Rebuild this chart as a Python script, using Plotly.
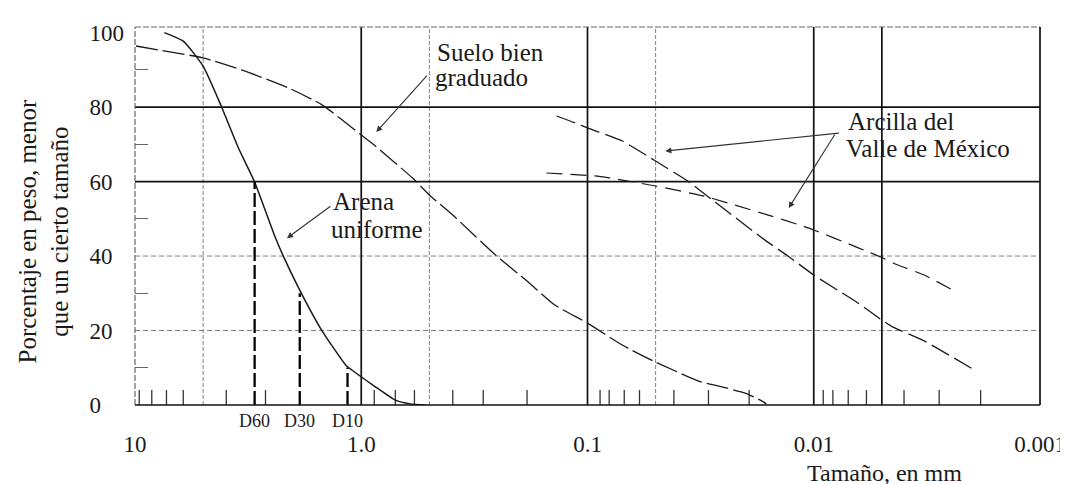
import math
import plotly.graph_objects as go

# ---------------- data ----------------
# Arena uniforme (solid curve)
arena_x = [7.42, 6.12, 5.0, 4.16, 3.49, 2.96, 2.42, 2.20, 1.89, 1.49, 1.17, 1.10, 0.876, 0.707, 0.607, 0.52]
arena_y = [100, 97.7, 91.0, 80.3, 69.0, 59.9, 45.6, 39.7, 31.4, 19.9, 10.7, 9.4, 5.1, 1.3, 0.3, 0]

# Suelo bien graduado (dashed curve)
suelo_x = [9.9, 7.82, 5.0, 3.28, 2.09, 1.49, 1.0, 0.876, 0.595, 0.5, 0.394, 0.252, 0.185, 0.140,
           0.1, 0.0702, 0.05, 0.0315, 0.0277, 0.0201, 0.0170, 0.0162]
suelo_y = [96.4, 95.3, 93.2, 89.7, 85.1, 80.6, 72.5, 69.8, 61.0, 56.4, 51.0, 40.0, 33.3, 26.9,
           22.0, 16.1, 11.5, 6.2, 5.4, 3.2, 1.1, 0.3]

# Arcilla del Valle de México, curve 1 (steeper)
arc1_x = [0.137, 0.114, 0.1, 0.0702, 0.05, 0.0362, 0.0277, 0.0162, 0.0130, 0.01, 0.00638, 0.005, 0.00446, 0.00325, 0.00195]
arc1_y = [77.6, 75.8, 74.4, 70.9, 65.5, 60.2, 54.8, 44.0, 40.0, 34.9, 27.4, 22.8, 20.9, 17.2, 9.4]

# Arcilla del Valle de México, curve 2 (flatter)
arc2_x = [0.152, 0.0926, 0.0702, 0.05, 0.0306, 0.0159, 0.0115, 0.01, 0.00684, 0.00596, 0.005, 0.00433, 0.00325, 0.00244]
arc2_y = [62.3, 61.5, 60.4, 58.8, 56.1, 51.0, 48.3, 47.0, 43.0, 41.5, 39.6, 37.8, 34.9, 30.9]

# characteristic diameters of the uniform sand
d_labels = ["D60", "D30", "D10"]
d_sizes = [2.96, 1.87, 1.15]
d_percent = [60, 30, 10]

# short marks along the size axis
sieve_ticks = [9.58, 8.43, 7.26, 6.12, 3.95, 2.65, 0.876, 0.707, 0.582, 0.394, 0.289, 0.185,
               0.088, 0.0802, 0.0688, 0.0589, 0.0415, 0.0292, 0.0193,
               0.00908, 0.00823, 0.00704, 0.00585, 0.00399, 0.00279, 0.00183]

# grid
x_grid_solid = [1, 0.1, 0.01, 0.005]
x_grid_dashed = [5, 0.5, 0.05]
y_grid_solid = [60, 80]
y_grid_dashed = [20, 40]

x_tickvals = [10, 1, 0.1, 0.01, 0.001]
x_ticktext = ["10", "1.0", "0.1", "0.01", "0.001"]
y_tickvals = [0, 20, 40, 60, 80, 100]
y_ticktext = ["0\u00a0\u00a0\u00a0\u00a0", "20\u00a0\u00a0", "40\u00a0\u00a0", "60\u00a0\u00a0", "80\u00a0\u00a0", "100"]
y_minor = [10, 30, 50, 70, 90]

X_MIN, X_MAX = 10, 0.001
Y_TOP = 101.5

FONT = "Liberation Serif"
INK = "#1a1a1a"

fig = go.Figure()


def segs(values, lo, hi, vertical=True):
    xs, ys = [], []
    for v in values:
        if vertical:
            xs += [v, v, None]
            ys += [lo, hi, None]
        else:
            xs += [lo, hi, None]
            ys += [v, v, None]
    return xs, ys


# grid lines
gx, gy = segs(x_grid_dashed, 0, Y_TOP)
fig.add_trace(go.Scatter(x=gx, y=gy, mode="lines", line=dict(color="#808080", width=1, dash="4px,2px")))
gx, gy = segs(y_grid_dashed, X_MIN, X_MAX, vertical=False)
fig.add_trace(go.Scatter(x=gx, y=gy, mode="lines", line=dict(color="#808080", width=1, dash="5px,3px")))
gx, gy = segs(x_grid_solid, 0, Y_TOP)
fig.add_trace(go.Scatter(x=gx, y=gy, mode="lines", line=dict(color="#111", width=1.7)))
gx, gy = segs(y_grid_solid, X_MIN, X_MAX, vertical=False)
fig.add_trace(go.Scatter(x=gx, y=gy, mode="lines", line=dict(color="#111", width=1.7)))

# short marks at the bottom
tx, ty = segs(sieve_ticks, 0, 4)
fig.add_trace(go.Scatter(x=tx, y=ty, mode="lines", line=dict(color="#333", width=1.3)))

# curves
fig.add_trace(go.Scatter(x=arena_x, y=arena_y, mode="lines",
                         line=dict(color=INK, width=1.5, shape="spline", smoothing=0.5)))
fig.add_trace(go.Scatter(x=suelo_x, y=suelo_y, mode="lines",
                         line=dict(color=INK, width=1.3, dash="22px,5px", shape="spline", smoothing=0.5)))
fig.add_trace(go.Scatter(x=arc1_x, y=arc1_y, mode="lines",
                         line=dict(color=INK, width=1.3, dash="20px,6px", shape="spline", smoothing=0.5)))
fig.add_trace(go.Scatter(x=arc2_x, y=arc2_y, mode="lines",
                         line=dict(color=INK, width=1.2, dash="16px,8px", shape="spline", smoothing=0.5)))

# D lines
for s, p in zip(d_sizes, d_percent):
    fig.add_trace(go.Scatter(x=[s, s], y=[0, p], mode="lines",
                             line=dict(color="#000", width=2.3, dash="14px,4px")))

# frame
shapes = [
    dict(type="line", xref="paper", yref="paper", x0=0, x1=1, y0=1, y1=1, line=dict(color="#666", width=1.2, dash="6px,2px")),
    dict(type="line", xref="paper", yref="paper", x0=0, x1=0, y0=0, y1=1, line=dict(color="#666", width=1.2, dash="6px,2px")),
    dict(type="line", xref="paper", yref="paper", x0=1, x1=1, y0=0, y1=1, line=dict(color="#111", width=1.7)),
    dict(type="line", xref="paper", yref="paper", x0=0, x1=1, y0=0, y1=0, line=dict(color="#111", width=1.7)),
]

annotations = []
# D labels
for lab, s in zip(d_labels, d_sizes):
    annotations.append(dict(x=math.log10(s), y=-0.042, xref="x", yref="paper", text=lab,
                            showarrow=False, xanchor="center", yanchor="middle",
                            font=dict(family=FONT, size=18, color=INK)))


def txt(text, xpx, ypx, size=25):
    annotations.append(dict(x=(xpx - 127) / 905, y=(397 - ypx) / 378, xref="paper", yref="paper",
                            text=text, showarrow=False, xanchor="left", yanchor="middle",
                            font=dict(family=FONT, size=size, color=INK)))


txt("Suelo bien", 427, 44)
txt("graduado", 425, 70)
txt("Arena", 323, 193)
txt("uniforme", 321, 221)
txt("Arcilla del", 838, 113)
txt("Valle de México", 836, 140)


def arrow(x, y, ax, ay):
    annotations.append(dict(x=math.log10(x), y=y, xref="x", yref="y", ax=ax, ay=ay, text="",
                            showarrow=True, arrowhead=2, arrowsize=1.1, arrowwidth=1.1,
                            arrowcolor="#333", standoff=0))


arrow(0.858, 73.3, 52, -58)
arrow(2.13, 44.8, 45, -33)
arrow(0.0453, 68.2, 175, -18)
arrow(0.0129, 52.9, 47, -75)

# axis titles
annotations.append(dict(x=(35.5 - 127) / 905, y=(397 - 224) / 378, xref="paper", yref="paper", textangle=-90,
                        xanchor="center", yanchor="middle",
                        text="Porcentaje en peso, menor<br>que un cierto tamaño", showarrow=False,
                        font=dict(family=FONT, size=25, color=INK)))
annotations.append(dict(x=(876 - 127) / 905, y=(397 - 465) / 378, xref="paper", yref="paper",
                        xanchor="center", yanchor="middle",
                        text="Tamaño, en mm", showarrow=False,
                        font=dict(family=FONT, size=24, color=INK)))

fig.update_layout(
    template="none",
    width=1068, height=484,
    margin=dict(l=127, r=36, t=19, b=87),
    paper_bgcolor="white", plot_bgcolor="white",
    showlegend=False,
    shapes=shapes, annotations=annotations,
    font=dict(family=FONT, color=INK),
    xaxis=dict(type="log", range=[1, -3], tickvals=x_tickvals, ticktext=x_ticktext, automargin=False,
               showgrid=False, zeroline=False, showline=False, ticks="",
               tickfont=dict(family=FONT, size=23, color=INK), ticklabelstandoff=23),
    yaxis=dict(range=[0, Y_TOP], tickvals=y_tickvals, ticktext=y_ticktext, automargin=False,
               showgrid=False, zeroline=False, showline=False, ticks="",
               tickfont=dict(family=FONT, size=23, color=INK), ticklabelstandoff=10,
               minor=dict(tickvals=y_minor, ticks="inside", ticklen=13, tickcolor="#666", tickwidth=1,
                          showgrid=False)),
)

fig.write_html("out.html")
